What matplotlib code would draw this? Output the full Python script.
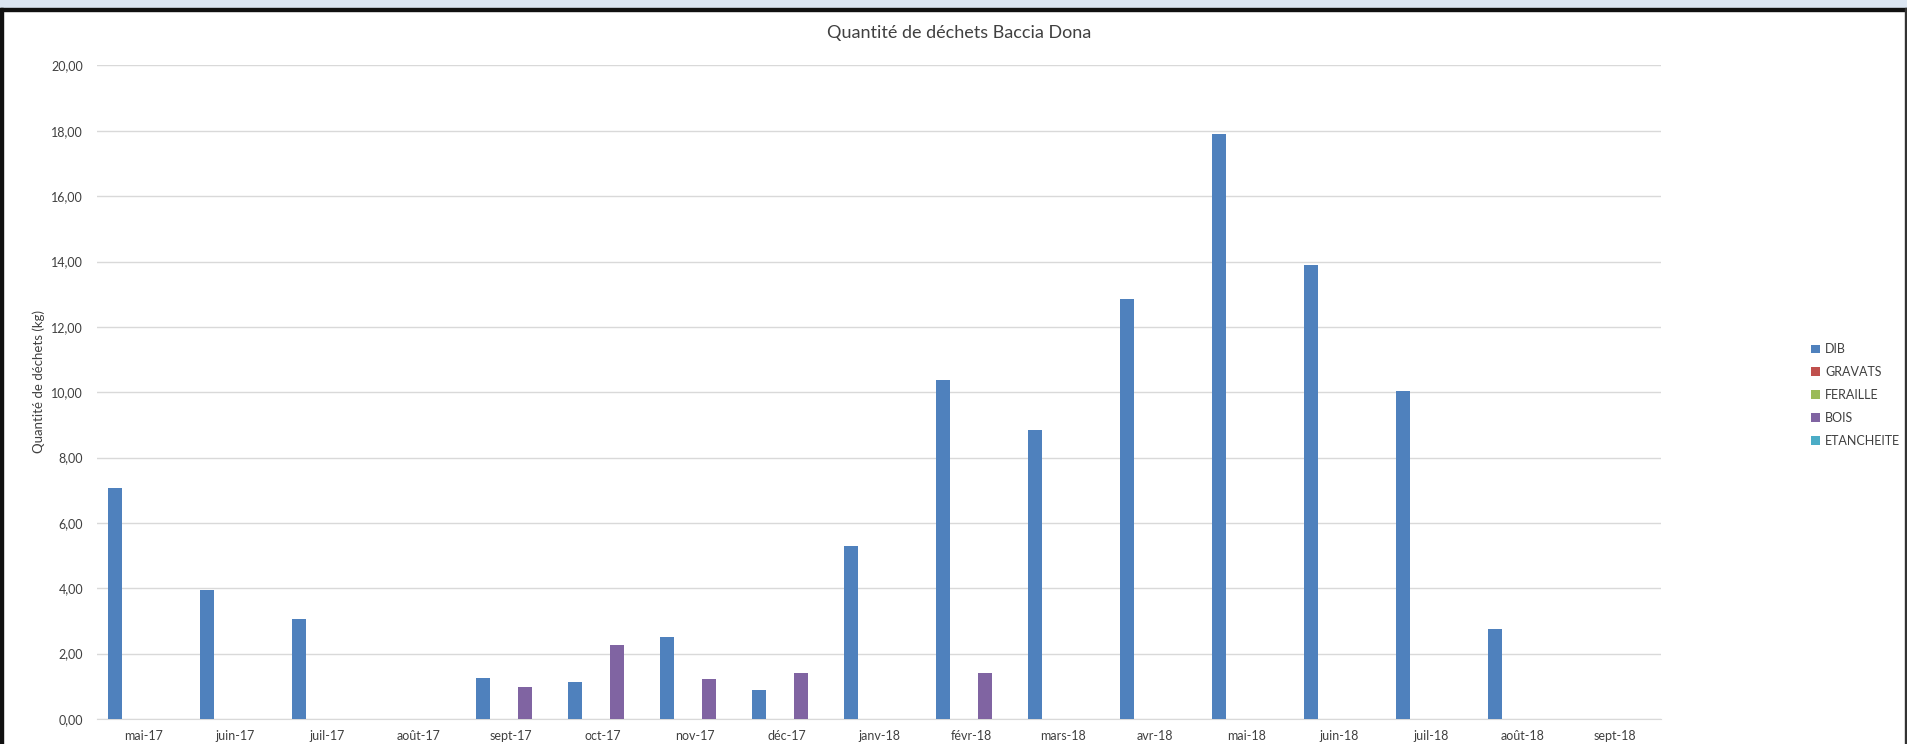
import numpy as np
import matplotlib
matplotlib.use("Agg")
from matplotlib import pyplot as plt
from matplotlib.patches import Rectangle

plt.rcParams['font.family'] = ['Lato', 'DejaVu Sans']

months = ['mai-17', 'juin-17', 'juil-17', 'août-17', 'sept-17', 'oct-17', 'nov-17',
          'déc-17', 'janv-18', 'févr-18', 'mars-18', 'avr-18', 'mai-18', 'juin-18',
          'juil-18', 'août-18', 'sept-18']
dib = [7.07, 3.95, 3.07, 0, 1.26, 1.12, 2.51, 0.89, 5.29, 10.38, 8.85, 12.86,
       17.89, 13.90, 10.04, 2.75, 0]
gravats = [0] * 17
feraille = [0] * 17
bois = [0, 0, 0, 0, 0.98, 2.27, 1.23, 1.40, 0, 1.41, 0, 0, 0, 0, 0, 0, 0]
etancheite = [0] * 17

series = ['DIB', 'GRAVATS', 'FERAILLE', 'BOIS', 'ETANCHEITE']
values = [dib, gravats, feraille, bois, etancheite]
colors = ['#4F81BD', '#C0504D', '#9BBB59', '#8064A2', '#4BACC6']

fig = plt.figure(figsize=(19.07, 7.44), dpi=100)
ax = fig.add_axes([0.0509, 0.0336, 0.8201, 0.8784])

x = np.arange(len(months))
w = 0.152
for i, (name, vals, c) in enumerate(zip(series, values, colors)):
    ax.bar(x + (i - 2) * w, vals, width=w, color=c, label=name, zorder=3)

ax.set_xlim(-0.5, len(months) - 0.5)
ax.set_ylim(0, 20)
yt = np.arange(0, 21, 2)
ax.set_yticks(yt)
ax.set_yticklabels([('%.2f' % v).replace('.', ',') for v in yt])
ax.set_xticks(x)
ax.set_xticklabels(months)
ax.tick_params(length=0, labelsize=9, colors='#404040')
ax.tick_params(axis='y', pad=10)
ax.tick_params(axis='x', pad=8)
ax.grid(True, axis='y', color='#D9D9D9', lw=1, zorder=0)
for s in ['top', 'right', 'left']:
    ax.spines[s].set_visible(False)
ax.spines['bottom'].set_color('#D9D9D9')
ax.set_ylabel('Quantité de déchets (kg)', fontsize=9.5, color='#404040', va='center')
ax.yaxis.set_label_coords(-0.037, 0.517)

fig.text(0.503, 0.956, 'Quantité de déchets Baccia Dona', ha='center', va='center',
         fontsize=13, color='#404040')

leg = fig.legend(loc='center left', bbox_to_anchor=(0.944, 0.469), frameon=False,
                 fontsize=9, handlelength=0.7, handleheight=0.7, handletextpad=0.4,
                 labelspacing=0.87)
for t in leg.get_texts():
    t.set_color('#404040')

# screenshot frame
fig.patches.append(Rectangle((0, 1 - 8 / 744), 1, 8 / 744, transform=fig.transFigure,
                             color='#DCE6F2', zorder=0))
fig.patches.append(Rectangle((0, 1 - 11 / 744), 1, 3 / 744, transform=fig.transFigure,
                             color='#111111', zorder=0))
fig.patches.append(Rectangle((0, 0), 3 / 1907, 1 - 8 / 744, transform=fig.transFigure,
                             color='#111111', zorder=0))
fig.patches.append(Rectangle((1 - 2 / 1907, 0), 2 / 1907, 1 - 8 / 744,
                             transform=fig.transFigure, color='#333333', zorder=0))

fig.savefig('out.png', dpi=100)
